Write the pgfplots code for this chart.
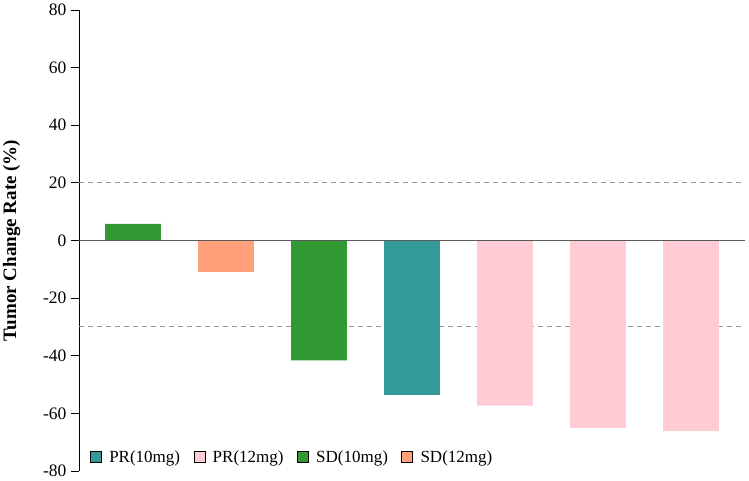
\documentclass[border=0pt]{standalone}
\usepackage{fontspec}
\setmainfont{Liberation Serif}
\usepackage{pgfplots}
\pgfplotsset{compat=1.18}

\definecolor{sdgreen}{HTML}{339933}
\definecolor{sdsalmon}{HTML}{FFA07A}
\definecolor{prteal}{HTML}{339999}
\definecolor{prpink}{HTML}{FFCCD5}
\definecolor{zerogray}{HTML}{5A5A5A}
\definecolor{dashgray}{HTML}{999999}

\begin{document}
\begin{tikzpicture}
\begin{axis}[
  scale only axis,
  width=666pt, height=461pt,
  xmin=-0.58, xmax=6.58,
  ymin=-80, ymax=80,
  axis x line=none,
  axis y line=left,
  axis line style={-, black, line width=0.8pt},
  xtick=\empty,
  ytick={-80,-60,...,80},
  tick align=outside,
  major tick length=8pt,
  ytick style={black, line width=0.8pt},
  /pgf/number format/assume math mode=true,
  yticklabel style={font=\fontsize{17.5}{17.5}\selectfont, xshift=-1pt},
  ylabel={Tumor Change Rate (\%)},
  ylabel style={font=\fontsize{19}{19}\selectfont\bfseries,
    at={(axis description cs:-0.101,0.5)}, anchor=center},
  legend columns=4,
  legend style={draw=none, fill=none, at={(rel axis cs:0.012,0.03)}, anchor=west,
    font=\fontsize{17}{17}\selectfont,
    /tikz/every odd column/.append style={column sep=6pt},
    /tikz/every even column/.append style={column sep=12pt},
    nodes={inner sep=1.5pt}},
  legend image code/.code={\draw[#1, draw=black, line width=0.6pt] (0pt,-5.5pt) rectangle (11pt,5.5pt);},
]
% reference lines at +20 and -30
\addplot[forget plot, dashgray, line width=0.9pt, dash pattern=on 5pt off 4pt] coordinates {(-0.58,20) (6.58,20)};
\addplot[forget plot, dashgray, line width=0.9pt, dash pattern=on 5pt off 4pt] coordinates {(-0.58,-30) (6.58,-30)};

\addplot[ybar, bar width=0.6, fill=prteal, draw=none] coordinates {(3,-53.5)};
\addlegendentry{PR(10mg)}
\addplot[ybar, bar width=0.6, fill=prpink, draw=none] coordinates {(4,-57.3) (5,-65.0) (6,-66.2)};
\addlegendentry{PR(12mg)}
\addplot[ybar, bar width=0.6, fill=sdgreen, draw=none] coordinates {(0,5.8) (2,-41.6)};
\addlegendentry{SD(10mg)}
\addplot[ybar, bar width=0.6, fill=sdsalmon, draw=none] coordinates {(1,-11.1)};
\addlegendentry{SD(12mg)}

% zero line
\addplot[forget plot, zerogray, line width=1pt] coordinates {(-0.58,0) (6.58,0)};

\coordinate (bl) at (rel axis cs:0,0);
\coordinate (tr) at (rel axis cs:1,1);
\end{axis}
\pgfresetboundingbox
\path ([shift={(-79pt,-10pt)}]bl) rectangle ([shift={(4pt,10pt)}]tr);
\end{tikzpicture}
\end{document}
